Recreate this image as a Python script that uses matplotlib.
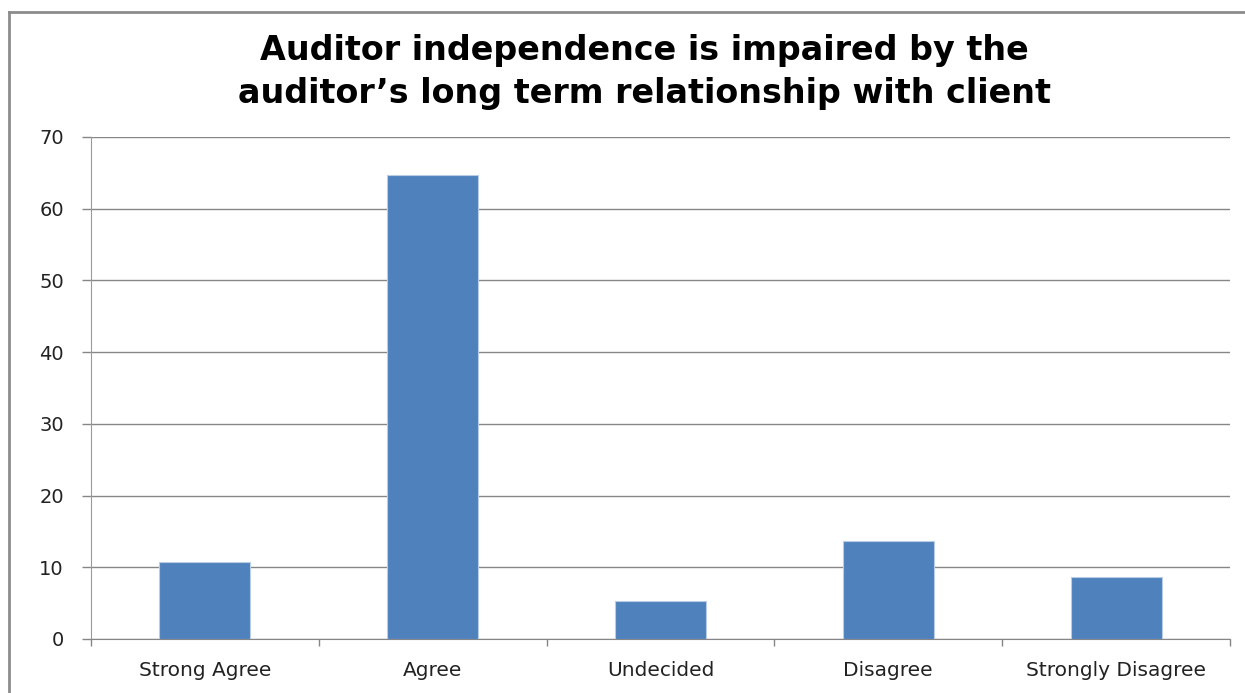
import matplotlib
matplotlib.use("Agg")
import matplotlib.pyplot as plt
from matplotlib.lines import Line2D

categories = ["Strong Agree", "Agree", "Undecided", "Disagree", "Strongly Disagree"]
values = [10.8, 64.7, 5.3, 13.6, 8.6]
yticks = [0, 10, 20, 30, 40, 50, 60, 70]
title = "Auditor independence is impaired by the\nauditor\u2019s long term relationship with client"

W, H = 1245, 693
fig = plt.figure(figsize=(W / 100, H / 100), dpi=100)
fig.patch.set_facecolor("white")

ax = fig.add_axes([91 / W, (H - 639) / H, (1230 - 91) / W, (639 - 137) / H])
x = list(range(len(categories)))
ax.bar(x, values, width=0.4, color="#4F81BD", edgecolor="#B9CDE5", linewidth=0.8, zorder=3)

ax.set_xlim(-0.5, len(categories) - 0.5)
ax.set_ylim(0, 70)
ax.set_yticks(yticks)
ax.set_yticklabels([str(v) for v in yticks], fontsize=14, family="DejaVu Sans", color="#222222")
ax.set_xticks(x)
ax.set_xticklabels(categories, fontsize=14.5, family="DejaVu Sans", color="#222222")
ax.tick_params(axis="x", length=0, pad=16)
ax.tick_params(axis="y", length=6.5, color="#868686", width=1, pad=13)

# minor ticks at category boundaries
ax.set_xticks([i - 0.5 for i in range(len(categories) + 1)], minor=True)
ax.tick_params(axis="x", which="minor", length=5, color="#868686", width=1, direction="out")

ax.grid(axis="y", color="#868686", linewidth=1, zorder=0)
for s in ["top", "right"]:
    ax.spines[s].set_visible(False)
ax.spines["left"].set_color("#9A9A9A")
ax.spines["bottom"].set_color("#868686")

fig.text(644 / W, 1 - 72 / H, title, ha="center", va="center", fontsize=24,
         fontweight="bold", family="DejaVu Sans", color="black", linespacing=1.4)

# outer chart border (left and top visible)
fig.add_artist(Line2D([9 / W, 9 / W], [0, 1 - 12 / H], transform=fig.transFigure,
                      color="#8C8C8C", linewidth=2))
fig.add_artist(Line2D([9 / W, 1], [1 - 12 / H, 1 - 12 / H], transform=fig.transFigure,
                      color="#8C8C8C", linewidth=2))

fig.savefig("out.png", dpi=100)
